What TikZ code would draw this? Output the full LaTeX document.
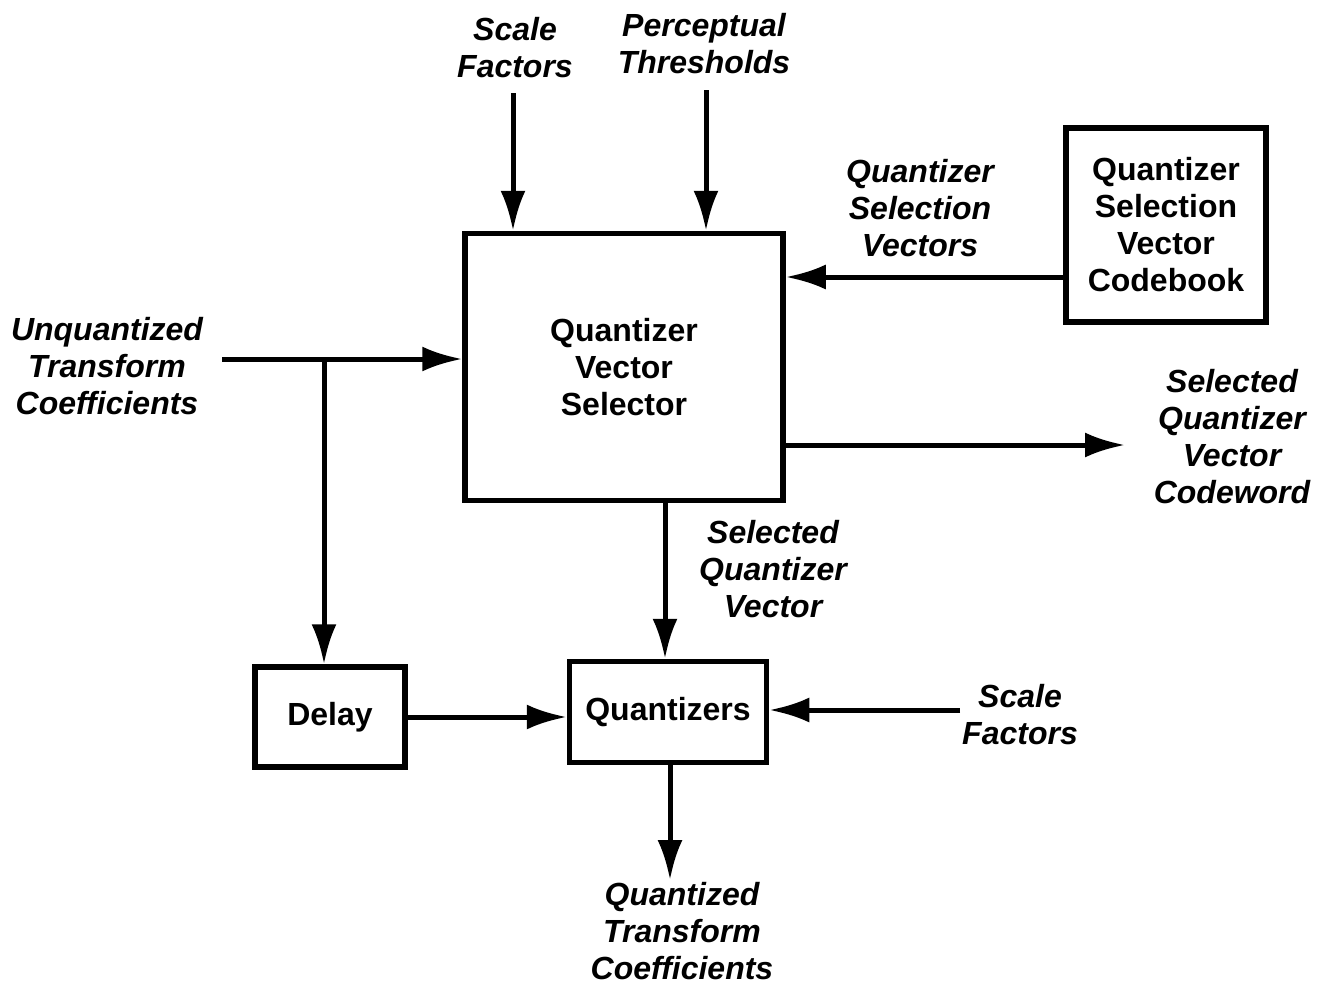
\documentclass[tikz,border=0pt]{standalone}
\usepackage{fontspec}
\setmainfont{Liberation Sans}
\usetikzlibrary{arrows.meta}
\begin{document}
\begin{tikzpicture}[x=1pt,y=-1pt,
  txt/.style={font=\fontsize{32}{37}\selectfont\bfseries, align=center, inner sep=0pt},
  lbl/.style={font=\fontsize{32}{37}\selectfont\bfseries\itshape, align=center, inner sep=0pt},
  blk/.style={txt, draw, line width=5.5pt},
  arr/.style={line width=5pt, -{Latex[length=40pt,width=25pt]}}]
\useasboundingbox (0,0) rectangle (1326,985);

% blocks
\node[blk, minimum width=318pt, minimum height=267pt] (sel) at (624,367) {Quantizer\\Vector\\Selector};
\node[blk, minimum width=200pt, minimum height=194pt] (cb) at (1166,225) {Quantizer\\Selection\\Vector\\Codebook};
\node[blk, minimum width=150pt, minimum height=100pt] (delay) at (330,717) {Delay};
\node[blk, minimum width=197pt, minimum height=101pt] (quant) at (668,712) {Quantizers};

% signal labels
\node[lbl] (sf1) at (515,48) {Scale\\Factors};
\node[lbl] (pt) at (704,44) {Perceptual\\Thresholds};
\node[lbl] (qsv) at (920,208) {Quantizer\\Selection\\Vectors};
\node[lbl] (utc) at (107,366) {Unquantized\\Transform\\Coefficients};
\node[lbl] (sqvc) at (1232,437) {Selected\\Quantizer\\Vector\\Codeword};
\node[lbl] (sqv) at (773,569) {Selected\\Quantizer\\Vector};
\node[lbl] (sf2) at (1020,715) {Scale\\Factors};
\node[lbl] (qtc) at (682,931) {Quantized\\Transform\\Coefficients};

% connector end points
\coordinate (sfs) at (513,93);
\coordinate (pts) at (706,90);
\coordinate (cbo) at (1065,277);
\coordinate (uin) at (222,359);
\coordinate (br) at (324,359);
\coordinate (so) at (1125,445);
\coordinate (sq) at (665,500);
\coordinate (sf2s) at (960,710);
\coordinate (qo) at (670,880);

% connectors
\draw[arr] (sfs) -- (sfs |- sel.north);
\draw[arr] (pts) -- (pts |- sel.north);
\draw[arr] (cbo) -- (cbo -| sel.east);
\draw[arr] (uin) -- (uin -| sel.west);
\draw[arr] (br) -- (br |- delay.north);
\draw[arr] (so -| sel.east) -- (so);
\draw[arr] (sq |- sel.south) -- (sq |- quant.north);
\draw[arr] (delay.east) -- (delay.east -| quant.west);
\draw[arr] (sf2s) -- (sf2s -| quant.east);
\draw[arr] (qo |- quant.south) -- (qo);
\end{tikzpicture}
\end{document}
